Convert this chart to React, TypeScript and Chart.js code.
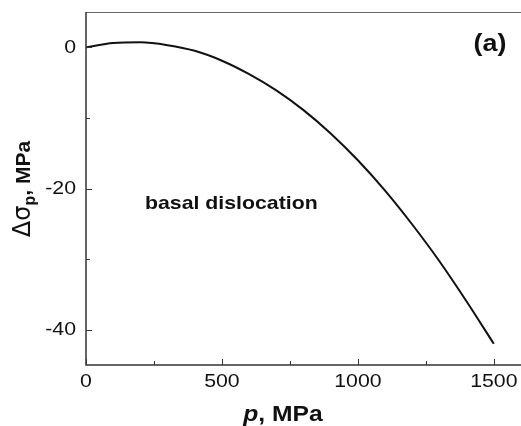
import React, { useEffect, useRef } from "react";
import { Chart, registerables } from "chart.js";

Chart.register(...registerables);

const pValues = [0, 100, 200, 300, 400, 500, 600, 700, 800, 900, 1000, 1100, 1200, 1300, 1400, 1500];
const deltaSigma = [0, 0.6, 0.7, 0.3, -0.5, -1.9, -3.8, -6.1, -8.9, -12.2, -16.0, -20.3, -25.1, -30.3, -36.0, -42.0];

const xMajorTicks = [0, 500, 1000, 1500];
const xMinorTicks = [250, 750, 1250];
const yMajorTicks = [0, -20, -40];
const yMinorTicks = [-10, -30];

const SX = 1.12;
const FAMILY = "'Liberation Sans', Arial, sans-serif";

function drawText(ctx: CanvasRenderingContext2D, text: string, x: number, y: number, font: string, align: CanvasTextAlign, baseline: CanvasTextBaseline) {
  ctx.save();
  ctx.translate(x, y);
  ctx.scale(SX, 1);
  ctx.font = font;
  ctx.textAlign = align;
  ctx.textBaseline = baseline;
  ctx.fillStyle = "#111";
  ctx.fillText(text, 0, 0);
  ctx.restore();
}

const decorPlugin = {
  id: "decor",
  afterDraw(chart: any) {
    const ctx: CanvasRenderingContext2D = chart.ctx;
    const { left, right, top, bottom } = chart.chartArea;
    const xs = chart.scales.x;
    const ys = chart.scales.y;
    ctx.save();
    // top frame line
    ctx.strokeStyle = "#666";
    ctx.lineWidth = 1;
    ctx.beginPath();
    ctx.moveTo(left, top + 0.5);
    ctx.lineTo(right, top + 0.5);
    ctx.stroke();
    // axes
    ctx.strokeStyle = "#333";
    ctx.lineWidth = 1.5;
    ctx.beginPath();
    ctx.moveTo(left, top);
    ctx.lineTo(left, bottom);
    ctx.lineTo(right, bottom);
    ctx.stroke();
    // ticks
    ctx.lineWidth = 1;
    ctx.beginPath();
    xMajorTicks.forEach((v) => {
      const px = Math.round(xs.getPixelForValue(v)) + 0.5;
      ctx.moveTo(px, bottom);
      ctx.lineTo(px, bottom - 6);
    });
    xMinorTicks.forEach((v) => {
      const px = Math.round(xs.getPixelForValue(v)) + 0.5;
      ctx.moveTo(px, bottom);
      ctx.lineTo(px, bottom - 4);
    });
    yMajorTicks.forEach((v) => {
      const py = Math.round(ys.getPixelForValue(v)) + 0.5;
      ctx.moveTo(left, py);
      ctx.lineTo(left + 6, py);
    });
    yMinorTicks.forEach((v) => {
      const py = Math.round(ys.getPixelForValue(v)) + 0.5;
      ctx.moveTo(left, py);
      ctx.lineTo(left + 4, py);
    });
    ctx.stroke();
    // tick labels
    const tickFont = `19px ${FAMILY}`;
    xMajorTicks.forEach((v) => {
      drawText(ctx, String(v), xs.getPixelForValue(v), bottom + 17, tickFont, "center", "middle");
    });
    yMajorTicks.forEach((v) => {
      ctx.save();
      ctx.font = tickFont;
      const w = ctx.measureText(String(v)).width * SX;
      ctx.restore();
      drawText(ctx, String(v), left - 10 - w, ys.getPixelForValue(v), tickFont, "left", "middle");
    });
    // annotations
    drawText(ctx, "(a)", 490, 44, `bold 24px ${FAMILY}`, "center", "middle");
    drawText(ctx, "basal dislocation", 145, 209, `bold 19px ${FAMILY}`, "left", "alphabetic");
    // x title
    {
      const f1 = `italic bold 22px ${FAMILY}`;
      const f2 = `bold 22px ${FAMILY}`;
      ctx.save();
      ctx.font = f1;
      const w1 = ctx.measureText("p").width * SX;
      ctx.font = f2;
      const w2 = ctx.measureText(", MPa").width * SX;
      ctx.restore();
      const cx = 283;
      const x0 = cx - (w1 + w2) / 2;
      drawText(ctx, "p", x0, 421, f1, "left", "alphabetic");
      drawText(ctx, ", MPa", x0 + w1, 421, f2, "left", "alphabetic");
    }
    // y title (rotated)
    {
      ctx.save();
      ctx.translate(30, 189);
      ctx.rotate(-Math.PI / 2);
      ctx.fillStyle = "#111";
      ctx.textBaseline = "alphabetic";
      ctx.textAlign = "left";
      const fA = `24px 'DejaVu Sans', ${FAMILY}`;
      const fSub = `bold 16px ${FAMILY}`;
      const fB = `bold 21px ${FAMILY}`;
      ctx.font = fA;
      const wA = ctx.measureText("Δσ").width;
      ctx.font = fSub;
      const wS = ctx.measureText("p").width;
      ctx.font = fB;
      const wB = ctx.measureText(", MPa").width;
      const total = wA + wS + wB;
      let x = -total / 2;
      ctx.font = fA;
      ctx.fillText("Δσ", x, 0);
      x += wA;
      ctx.font = fSub;
      ctx.fillText("p", x, 5);
      x += wS;
      ctx.font = fB;
      ctx.fillText(", MPa", x, 0);
      ctx.restore();
    }
    ctx.restore();
  },
};

export default function App() {
  const canvasRef = useRef<HTMLCanvasElement | null>(null);

  useEffect(() => {
    document.body.style.margin = "0";
    const canvas = canvasRef.current;
    if (!canvas) return;
    const chart = new Chart(canvas, {
      type: "line",
      data: {
        datasets: [
          {
            data: pValues.map((p, i) => ({ x: p, y: deltaSigma[i] })),
            borderColor: "#111",
            borderWidth: 2,
            pointRadius: 0,
            cubicInterpolationMode: "monotone",
            fill: false,
          },
        ],
      },
      options: {
        animation: false,
        responsive: true,
        maintainAspectRatio: false,
        layout: { padding: { left: 86, top: 12, right: 0, bottom: 61 } },
        plugins: { legend: { display: false }, tooltip: { enabled: false } },
        scales: {
          x: { type: "linear", min: 0, max: 1600, display: false },
          y: { type: "linear", min: -45, max: 5, display: false },
        },
      },
      plugins: [decorPlugin],
    });
    return () => chart.destroy();
  }, []);

  return (
    <div style={{ width: 521, height: 426, position: "relative", background: "#fff" }}>
      <canvas ref={canvasRef} />
    </div>
  );
}
